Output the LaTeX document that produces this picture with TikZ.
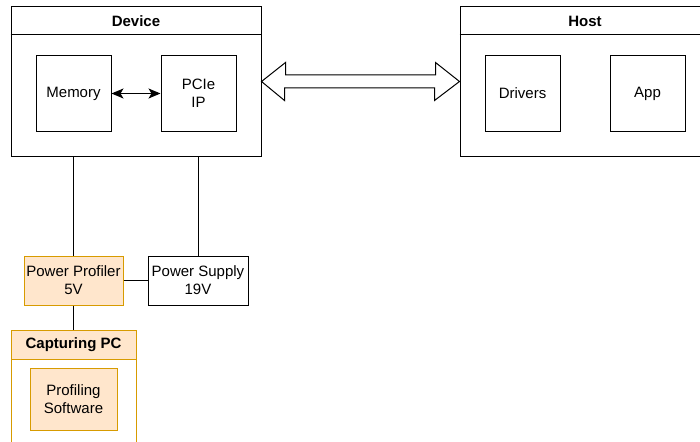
\documentclass[tikz,border=0pt]{standalone}
\usepackage{fontspec}
\setmainfont{Liberation Sans}
\usetikzlibrary{arrows.meta}

\definecolor{peach}{HTML}{FFE6CC}
\definecolor{amber}{HTML}{D79B00}

\tikzset{
    lane/.style={draw, line width=1pt, inner sep=0pt},
    blockbox/.style={draw, line width=1pt, inner sep=0pt, align=center,
        font=\fontsize{15}{18}\selectfont},
    lanetitle/.style={font=\bfseries\fontsize{15}{18}\selectfont},
    orangebox/.style={fill=peach, draw=amber},
    wire/.style={line width=1pt},
}

\begin{document}
\begin{tikzpicture}[x=1pt, y=-1pt]
    \useasboundingbox (0,0) rectangle (700,441);

    % Device lane
    \node[lane, minimum width=250pt, minimum height=149pt] (dev) at (136,81.5) {};
    \draw[wire] ([yshift=-28pt]dev.north west) -- ([yshift=-28pt]dev.north east);
    \node[lanetitle] (devtitle) at (136,21) {Device};
    \node[blockbox, minimum width=75pt, minimum height=75pt] (mem) at (73.5,93.5) {Memory};
    \node[blockbox, minimum width=75pt, minimum height=75pt] (pcie) at (198.5,93.5) {PCIe\\IP};
    \draw[wire, {Stealth[length=12pt,width=10pt,inset=3pt]}-{Stealth[length=12pt,width=10pt,inset=3pt]}] (mem) -- (pcie);

    % Host lane
    \node[lane, minimum width=250pt, minimum height=149pt] (host) at (585,81.5) {};
    \draw[wire] ([yshift=-28pt]host.north west) -- ([yshift=-28pt]host.north east);
    \node[lanetitle] (hosttitle) at (585,21) {Host};
    \node[blockbox, minimum width=75pt, minimum height=75pt] (drv) at (522.5,93.5) {Drivers};
    \node[blockbox, minimum width=75pt, minimum height=75pt] (app) at (647.5,93.5) {App};

    % Link between device and host
    \draw[wire, fill=white] (dev.east) -- ++(24,-19) -- ++(0,12.5) -- ++(150,0)
        -- ++(0,-12.5) -- (host.west) -- ++(-25,19) -- ++(0,-12.5)
        -- ++(-150,0) -- ++(0,12.5) -- cycle;

    % Power
    \node[blockbox, orangebox, minimum width=99pt, minimum height=49pt] (prof) at (73.5,280.5) {Power Profiler\\5V};
    \node[blockbox, minimum width=100pt, minimum height=49pt] (supply) at (198,280.5) {Power Supply\\19V};
    \draw[wire] (prof.north) -- (prof.north |- dev.south);
    \draw[wire] (supply.north) -- (supply.north |- dev.south);
    \draw[wire] (prof.east) -- (supply.west);

    % Capturing PC lane
    \node[lane, draw=amber, minimum width=125pt, minimum height=140pt] (pc) at (73.5,400) {};
    \node[lane, orangebox, lanetitle, minimum width=125pt, minimum height=29pt] (pctitle) at (73.5,344.5) {Capturing PC};
    \node[blockbox, orangebox, minimum width=87pt, minimum height=62pt] (sw) at (73.5,399) {Profiling\\Software};
    \draw[wire] (prof.south) -- (pctitle.north);
\end{tikzpicture}
\end{document}
